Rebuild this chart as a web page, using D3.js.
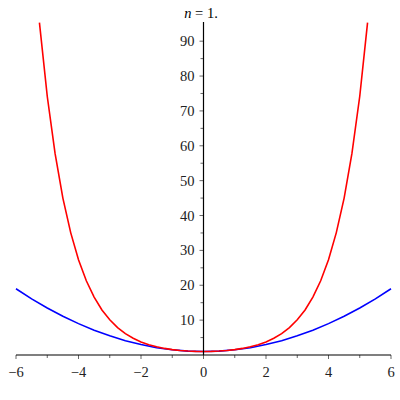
<!DOCTYPE html>
<html><head><meta charset="utf-8">
<script src="https://cdn.jsdelivr.net/npm/d3@7"></script>
<style>body{margin:0;background:#fff}svg{display:block}</style>
</head><body><svg id="c" width="400" height="400" font-family="'Liberation Serif', Times, 'Times New Roman', serif"></svg>
<script>
const titleN = "1.";
const xTicks = [-6,-4,-2,0,2,4,6];
const yTicks = [10,20,30,40,50,60,70,80,90];
const blueX = [-6,-5.5,-5,-4.5,-4,-3.5,-3,-2.5,-2,-1.5,-1,-0.5,0,0.5,1,1.5,2,2.5,3,3.5,4,4.5,5,5.5,6];
const blueY = [19,16.1,13.5,11.1,9,7.1,5.5,4.1,3,2.1,1.5,1.1,1,1.1,1.5,2.1,3,4.1,5.5,7.1,9,11.1,13.5,16.1,19];
const redX = [-5.25,-5,-4.75,-4.5,-4.25,-4,-3.75,-3.5,-3.25,-3,-2.75,-2.5,-2.25,-2,-1.75,-1.5,-1.25,-1,-0.75,-0.5,-0.25,0,0.25,0.5,0.75,1,1.25,1.5,1.75,2,2.25,2.5,2.75,3,3.25,3.5,3.75,4,4.25,4.5,4.75,5,5.25];
const redY = [95.3,74.2,57.8,45.0,35.1,27.3,21.3,16.6,12.9,10.1,7.85,6.13,4.80,3.76,2.96,2.35,1.89,1.54,1.29,1.13,1.03,1,1.03,1.13,1.29,1.54,1.89,2.35,2.96,3.76,4.80,6.13,7.85,10.1,12.9,16.6,21.3,27.3,35.1,45.0,57.8,74.2,95.3];

const svg = d3.select("#c");
const x = d3.scaleLinear().domain([-6,6]).range([16,391]);
const y = d3.scaleLinear().domain([0,95.5]).range([355,22]);

const line = d3.line().x(d=>x(d[0])).y(d=>y(d[1]));
svg.append("path").datum(blueX.map((v,i)=>[v,blueY[i]]))
  .attr("d",line).attr("fill","none").attr("stroke","#0000ff").attr("stroke-width",1.6);
svg.append("path").datum(redX.map((v,i)=>[v,redY[i]]))
  .attr("d",line).attr("fill","none").attr("stroke","#ff0000").attr("stroke-width",1.6);

const gx = svg.append("g").attr("transform",`translate(0,${y(0)})`);
gx.append("line").attr("x1",x(-6)).attr("x2",x(6)).attr("stroke","#000").attr("stroke-width",1.2);
gx.selectAll(".mt").data(d3.range(-6,7,1)).join("line")
  .attr("x1",d=>x(d)).attr("x2",d=>x(d)).attr("y1",0).attr("y2",d=>d%2===0?4:3).attr("stroke","#000").attr("stroke-width",0.6);
gx.selectAll("text").data(xTicks).join("text")
  .attr("x",d=>x(d)).attr("y",22).attr("text-anchor","middle").attr("font-size",14.5).attr("fill","#222")
  .text(d=>d<0?"\u2212"+Math.abs(d):String(d));

const gy = svg.append("g").attr("transform",`translate(${x(0)},0)`);
gy.append("line").attr("y1",y(0)).attr("y2",y(95.5)).attr("stroke","#000").attr("stroke-width",1.2);
gy.selectAll(".mt").data(d3.range(5,95,5)).join("line")
  .attr("y1",d=>y(d)).attr("y2",d=>y(d)).attr("x1",0).attr("x2",d=>d%10===0?-4:-3).attr("stroke","#000").attr("stroke-width",0.6);
gy.selectAll("text").data(yTicks).join("text")
  .attr("x",-9).attr("y",d=>y(d)).attr("dy","0.35em").attr("text-anchor","end").attr("font-size",14.5).attr("fill","#222")
  .text(d=>d);

const t = svg.append("text").attr("x",201).attr("y",18).attr("text-anchor","middle").attr("font-size",14.5);
t.append("tspan").attr("font-style","italic").text("n");
t.append("tspan").text(" = " + titleN);
</script></body></html>
